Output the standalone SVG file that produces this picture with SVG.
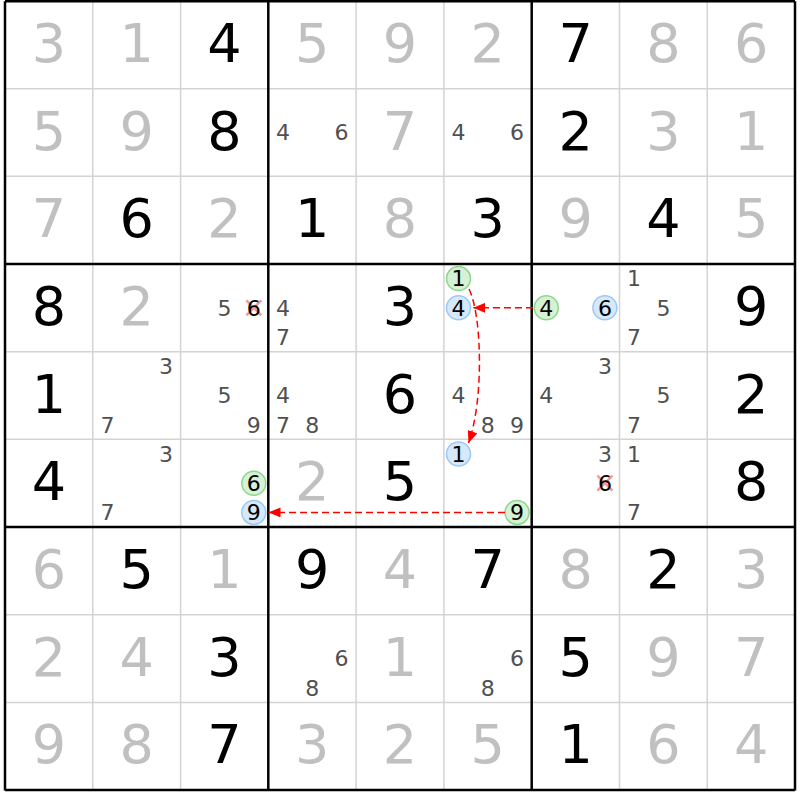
<svg xmlns="http://www.w3.org/2000/svg" width="800" height="800" viewBox="0 0 800 800">
<style>
.bg{fill:#ffffff}
.thin{stroke:#d3d3d3;stroke-width:1.5}
.thick{stroke:#000;stroke-width:2.5}
.giv{font-family:"DejaVu Sans",Verdana,sans-serif;font-size:54px;text-anchor:middle;fill:#000}
.gry{font-family:"DejaVu Sans",Verdana,sans-serif;font-size:54px;text-anchor:middle;fill:#c0c0c0}
.cand{font-family:"DejaVu Sans",Verdana,sans-serif;font-size:22px;text-anchor:middle;fill:#505050}
.hl{font-family:"DejaVu Sans",Verdana,sans-serif;font-size:22px;text-anchor:middle;fill:#000}
.on{fill:#d5f2d5;stroke:#8ed68e;stroke-width:1.5}
.off{fill:#d6e9fb;stroke:#9cc8f5;stroke-width:1.5}
.x{stroke:#f49a9a;stroke-width:2.5}
.link{fill:none;stroke:#ff0000;stroke-width:1.5;stroke-dasharray:7,4}
</style>
<defs>
<marker id="ah" markerUnits="userSpaceOnUse" markerWidth="12" markerHeight="10" refX="12" refY="5" orient="auto">
<path d="M0,0 L12,5 L0,10 z" fill="#ff0000"/>
</marker>
</defs>
<rect class="bg" x="0" y="0" width="800" height="800"/>
<g id="grid">
<g class="thin">
<line x1="92.8" y1="1" x2="92.8" y2="790"/>
<line x1="180.6" y1="1" x2="180.6" y2="790"/>
<line x1="356.1" y1="1" x2="356.1" y2="790"/>
<line x1="443.9" y1="1" x2="443.9" y2="790"/>
<line x1="619.5" y1="1" x2="619.5" y2="790"/>
<line x1="707.2" y1="1" x2="707.2" y2="790"/>
<line x1="5" y1="88.7" x2="795" y2="88.7"/>
<line x1="5" y1="176.3" x2="795" y2="176.3"/>
<line x1="5" y1="351.7" x2="795" y2="351.7"/>
<line x1="5" y1="439.3" x2="795" y2="439.3"/>
<line x1="5" y1="614.7" x2="795" y2="614.7"/>
<line x1="5" y1="702.4" x2="795" y2="702.4"/>
</g>
<g class="thick">
<line x1="5" y1="1.3" x2="5" y2="790.5"/>
<line x1="268.3" y1="1.3" x2="268.3" y2="790.5"/>
<line x1="531.7" y1="1.3" x2="531.7" y2="790.5"/>
<line x1="795" y1="1.3" x2="795" y2="790.5"/>
<line x1="5" y1="1.3" x2="795" y2="1.3"/>
<line x1="5" y1="264" x2="795" y2="264"/>
<line x1="5" y1="527" x2="795" y2="527"/>
<line x1="5" y1="790" x2="795" y2="790"/>
</g>
</g>
<g id="row0">
<text class="gry" x="48.9" y="61.8">3</text><text class="gry" x="136.7" y="61.8">1</text><text class="giv" x="224.5" y="61.8">4</text>
<text class="gry" x="312.2" y="61.8">5</text><text class="gry" x="400" y="61.8">9</text><text class="gry" x="487.8" y="61.8">2</text>
<text class="giv" x="575.6" y="61.8">7</text><text class="gry" x="663.4" y="61.8">8</text><text class="gry" x="751.1" y="61.8">6</text>
</g>
<g id="row1">
<text class="gry" x="48.9" y="149.5">5</text><text class="gry" x="136.7" y="149.5">9</text><text class="giv" x="224.5" y="149.5">8</text>
<text class="cand" x="283" y="140.3">4</text><text class="cand" x="341.5" y="140.3">6</text>
<text class="gry" x="400" y="149.5">7</text>
<text class="cand" x="458.5" y="140.3">4</text><text class="cand" x="517.1" y="140.3">6</text>
<text class="giv" x="575.6" y="149.5">2</text><text class="gry" x="663.4" y="149.5">3</text><text class="gry" x="751.1" y="149.5">1</text>
</g>
<g id="row2">
<text class="gry" x="48.9" y="237.2">7</text><text class="giv" x="136.7" y="237.2">6</text><text class="gry" x="224.5" y="237.2">2</text>
<text class="giv" x="312.2" y="237.2">1</text><text class="gry" x="400" y="237.2">8</text><text class="giv" x="487.8" y="237.2">3</text>
<text class="gry" x="575.6" y="237.2">9</text><text class="giv" x="663.4" y="237.2">4</text><text class="gry" x="751.1" y="237.2">5</text>
</g>
<g id="row3">
<text class="giv" x="48.9" y="324.8">8</text><text class="gry" x="136.7" y="324.8">2</text>
<text class="cand" x="224.5" y="315.6">5</text>
<line class="x" x1="246.3" y1="300.3" x2="261.3" y2="315.3"/><line class="x" x1="261.3" y1="300.3" x2="246.3" y2="315.3"/>
<text class="hl" x="253.8" y="315.6">6</text>
<text class="cand" x="283" y="315.6">4</text><text class="cand" x="283" y="344.8">7</text>
<text class="giv" x="400" y="324.8">3</text>
<circle class="on" cx="458.5" cy="278.6" r="12"/><text class="hl" x="458.5" y="286.4">1</text>
<circle class="off" cx="458.5" cy="307.8" r="12"/><text class="hl" x="458.5" y="315.6">4</text>
<circle class="on" cx="546.3" cy="307.8" r="12"/><text class="hl" x="546.3" y="315.6">4</text>
<circle class="off" cx="604.9" cy="307.8" r="12"/><text class="hl" x="604.9" y="315.6">6</text>
<text class="cand" x="634.1" y="286.4">1</text><text class="cand" x="663.4" y="315.6">5</text><text class="cand" x="634.1" y="344.8">7</text>
<text class="giv" x="751.1" y="324.8">9</text>
</g>
<g id="row4">
<text class="giv" x="48.9" y="412.5">1</text>
<text class="cand" x="166" y="374.1">3</text><text class="cand" x="107.4" y="432.5">7</text>
<text class="cand" x="224.5" y="403.3">5</text><text class="cand" x="253.8" y="432.5">9</text>
<text class="cand" x="283" y="403.3">4</text><text class="cand" x="283" y="432.5">7</text><text class="cand" x="312.2" y="432.5">8</text>
<text class="giv" x="400" y="412.5">6</text>
<text class="cand" x="458.5" y="403.3">4</text><text class="cand" x="487.8" y="432.5">8</text><text class="cand" x="517.1" y="432.5">9</text>
<text class="cand" x="604.9" y="374.1">3</text><text class="cand" x="546.3" y="403.3">4</text>
<text class="cand" x="663.4" y="403.3">5</text><text class="cand" x="634.1" y="432.5">7</text>
<text class="giv" x="751.1" y="412.5">2</text>
</g>
<g id="row5">
<text class="giv" x="48.9" y="500.2">4</text>
<text class="cand" x="166" y="461.8">3</text><text class="cand" x="107.4" y="520.2">7</text>
<circle class="on" cx="253.8" cy="483.2" r="12"/><text class="hl" x="253.8" y="491">6</text>
<circle class="off" cx="253.8" cy="512.4" r="12"/><text class="hl" x="253.8" y="520.2">9</text>
<text class="gry" x="312.2" y="500.2">2</text>
<text class="giv" x="400" y="500.2">5</text>
<circle class="off" cx="458.5" cy="454" r="12"/><text class="hl" x="458.5" y="461.8">1</text>
<circle class="on" cx="517.1" cy="512.4" r="12"/><text class="hl" x="517.1" y="520.2">9</text>
<text class="cand" x="604.9" y="461.8">3</text>
<line class="x" x1="597.4" y1="475.7" x2="612.4" y2="490.7"/><line class="x" x1="612.4" y1="475.7" x2="597.4" y2="490.7"/>
<text class="hl" x="604.9" y="491">6</text>
<text class="cand" x="634.1" y="461.8">1</text><text class="cand" x="634.1" y="520.2">7</text>
<text class="giv" x="751.1" y="500.2">8</text>
</g>
<g id="row6">
<text class="gry" x="48.9" y="587.8">6</text><text class="giv" x="136.7" y="587.8">5</text><text class="gry" x="224.5" y="587.8">1</text>
<text class="giv" x="312.2" y="587.8">9</text><text class="gry" x="400" y="587.8">4</text><text class="giv" x="487.8" y="587.8">7</text>
<text class="gry" x="575.6" y="587.8">8</text><text class="giv" x="663.4" y="587.8">2</text><text class="gry" x="751.1" y="587.8">3</text>
</g>
<g id="row7">
<text class="gry" x="48.9" y="675.5">2</text><text class="gry" x="136.7" y="675.5">4</text><text class="giv" x="224.5" y="675.5">3</text>
<text class="cand" x="341.5" y="666.3">6</text><text class="cand" x="312.2" y="695.5">8</text>
<text class="gry" x="400" y="675.5">1</text>
<text class="cand" x="517.1" y="666.3">6</text><text class="cand" x="487.8" y="695.5">8</text>
<text class="giv" x="575.6" y="675.5">5</text><text class="gry" x="663.4" y="675.5">9</text><text class="gry" x="751.1" y="675.5">7</text>
</g>
<g id="row8">
<text class="gry" x="48.9" y="763.1">9</text><text class="gry" x="136.7" y="763.1">8</text><text class="giv" x="224.5" y="763.1">7</text>
<text class="gry" x="312.2" y="763.1">3</text><text class="gry" x="400" y="763.1">2</text><text class="gry" x="487.8" y="763.1">5</text>
<text class="giv" x="575.6" y="763.1">1</text><text class="gry" x="663.4" y="763.1">6</text><text class="gry" x="751.1" y="763.1">4</text>
</g>
<g id="connectors">
<path class="link" d="M533,307.8 L473.3,307.8" marker-end="url(#ah)"/>
<path class="link" d="M469,289 C482,315 484,400 468.5,443" marker-end="url(#ah)"/>
<path class="link" d="M505,512.4 L268.5,512.4" marker-end="url(#ah)"/>
</g>
</svg>
